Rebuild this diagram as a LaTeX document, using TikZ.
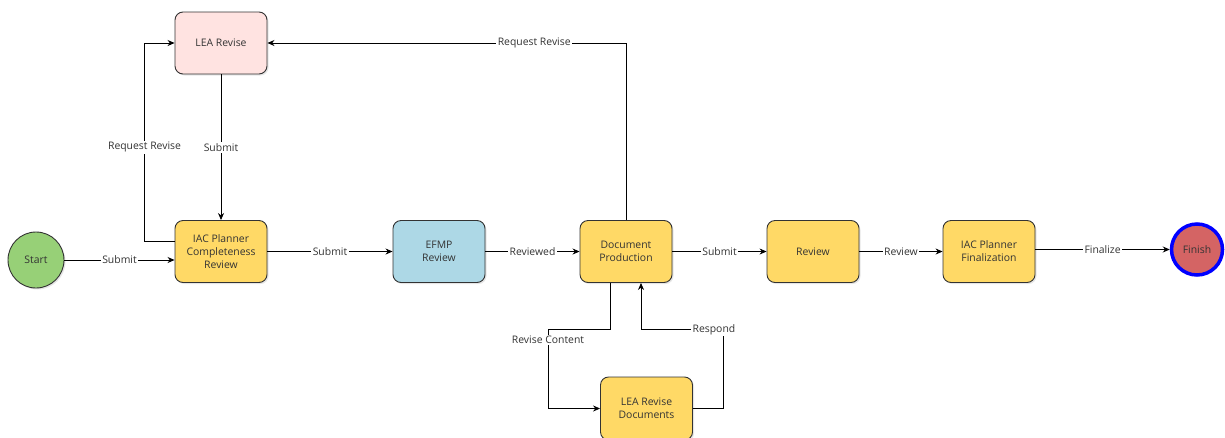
\documentclass[tikz,border=0pt]{standalone}
\usepackage{fontspec}
\setmainfont{Open Sans}
\usetikzlibrary{shadows,calc,arrows.meta}
\definecolor{boxy}{HTML}{FFD966}
\definecolor{boxpink}{HTML}{FFE3E1}
\definecolor{boxblue}{HTML}{ADD8E6}
\definecolor{startg}{HTML}{97D077}
\definecolor{finr}{HTML}{D46464}
\definecolor{ln}{HTML}{333333}
\begin{document}
\begin{tikzpicture}[x=1pt,y=-1pt,
  every node/.style={font=\fontsize{10.4}{13}\selectfont, text=ln},
  proc/.style={draw=ln, line width=0.9pt, rounded corners=8pt, minimum width=92pt, minimum height=62pt, align=center, inner sep=1pt,
    drop shadow={shadow xshift=1.5pt, shadow yshift=-1.5pt, opacity=0.2}},
  yproc/.style={proc, fill=boxy},
  circ/.style={circle, draw=ln, line width=0.9pt, minimum size=56pt, inner sep=0pt,
    drop shadow={shadow xshift=1.5pt, shadow yshift=-1.5pt, opacity=0.2}},
  arr/.style={draw=black, line width=0.8pt, -{Stealth[length=7pt,width=6pt]}},
  lbl/.style={fill=white, inner sep=1.5pt}
]
\useasboundingbox (0,0) rectangle (1225,437);

\node[circ, fill=startg] (start) at (36,260) {Start};
\node[yproc] (iac) at (221,251.5) {IAC Planner\\Completeness\\Review};
\node[proc, fill=boxpink] (lea) at (221,43) {LEA Revise};
\node[proc, fill=boxblue] (efmp) at (439,251.5) {EFMP\\Review};
\node[yproc] (doc) at (626,251.5) {Document\\Production};
\node[yproc] (rev) at (813,251.5) {Review};
\node[yproc] (ifin) at (989,251.5) {IAC Planner\\Finalization};
\node[circle, draw=blue, line width=3.5pt, fill=finr, minimum size=51pt, inner sep=0pt] (finish) at (1197,249.5) {Finish};
\node[yproc, minimum height=63pt] (lead) at (646.5,408.5) {LEA Revise\\Documents};

\draw[arr] (start.east) -- node[lbl, pos=0.5]{Submit} (start.east -| iac.west);
\draw[arr] (iac) -- node[lbl]{Submit} (efmp);
\draw[arr] (efmp) -- node[lbl]{Reviewed} (doc);
\draw[arr] (doc) -- node[lbl]{Submit} (rev);
\draw[arr] (rev) -- node[lbl]{Review} (ifin);
\draw[arr] (ifin.east |- finish.west) -- node[lbl]{Finalize} (finish.west);

\draw[arr] ([yshift=10.5pt]iac.west) -- ++(-30,0) |- node[lbl, pos=0.237]{Request Revise} (lea.west);
\draw[arr] (lea) -- node[lbl]{Submit} (iac);
\draw[arr] (doc.north) |- node[lbl, pos=0.628]{Request Revise} (lea.east);

\draw[arr] ([xshift=-16pt]doc.south) -- ++(0,46) -- ++(-62,0) |- node[lbl, pos=0.07]{Revise Content} (lead.west);
\draw[arr] (lead.east) -- ++(30,0) -- ++(0,-79) -| node[lbl, pos=0.055]{Respond} ([xshift=15pt]doc.south);
\end{tikzpicture}
\end{document}
